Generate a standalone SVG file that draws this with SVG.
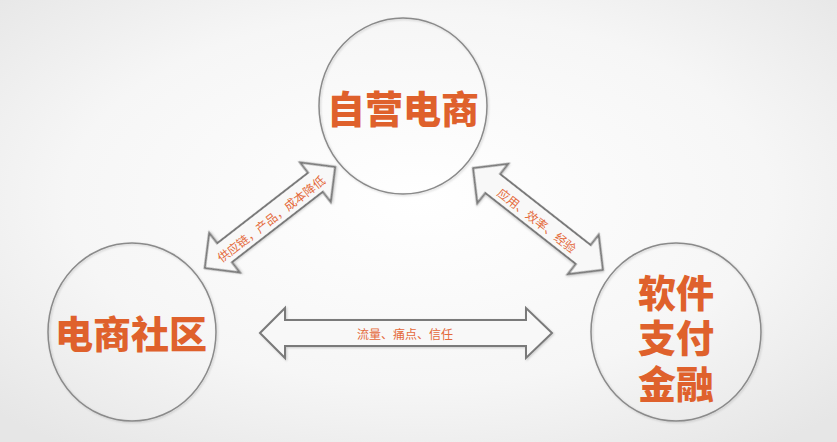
<svg xmlns="http://www.w3.org/2000/svg" width="837" height="442" viewBox="0 0 837 442">
<defs>
<radialGradient id="bg" cx="50%" cy="45%" r="70%">
<stop offset="0" stop-color="#ffffff"/>
<stop offset="0.6" stop-color="#f6f6f6"/>
<stop offset="1" stop-color="#e6e6e6"/>
</radialGradient>
<filter id="sh" x="-10%" y="-10%" width="120%" height="120%">
<feDropShadow dx="1" dy="1" stdDeviation="1.2" flood-color="#000" flood-opacity="0.18"/>
</filter>
</defs>
<style>
.node{fill:none;stroke:#8a8a8a;stroke-width:1.5;filter:url(#sh)}
.arr{fill:#f8f8f8;stroke:#7a7a7a;stroke-width:2;stroke-linejoin:miter;filter:url(#sh)}
.big{font-family:"Noto Sans CJK SC","Noto Sans",sans-serif;font-weight:900;font-size:38px;fill:#df612c;text-anchor:middle;dominant-baseline:central}
.lbl{font-family:"Noto Sans CJK SC","Noto Sans",sans-serif;font-size:12px;fill:#e4693a;text-anchor:middle;dominant-baseline:central}
</style>
<rect width="837" height="442" fill="url(#bg)"/>
<g id="node-top">
<ellipse class="node" cx="403" cy="106" rx="84" ry="88"/>
<text class="big" x="403" y="106">自营电商</text>
</g>
<g id="node-left">
<ellipse class="node" cx="132" cy="332" rx="84" ry="89"/>
<text class="big" x="131" y="331">电商社区</text>
</g>
<g id="node-right">
<ellipse class="node" cx="676" cy="332" rx="85" ry="89"/>
<text class="big" x="676" y="290">软件</text>
<text class="big" x="676" y="335">支付</text>
<text class="big" x="676" y="381">金融</text>
</g>
<g id="connectors">
<g transform="translate(270,217.5) rotate(-37.8)">
<path class="arr" d="M-82.5,0 L-57.5,-25 L-57.5,-12 L57.5,-12 L57.5,-25 L82.5,0 L57.5,25 L57.5,12 L-57.5,12 L-57.5,25 Z"/>
<text class="lbl" x="0" y="1">供应链，产品，成本降低</text>
</g>
<g transform="translate(538,219) rotate(38.1)">
<path class="arr" d="M-82.5,0 L-57.5,-25 L-57.5,-12 L57.5,-12 L57.5,-25 L82.5,0 L57.5,25 L57.5,12 L-57.5,12 L-57.5,25 Z"/>
<text class="lbl" x="0" y="1">应用、效率、经验</text>
</g>
<g>
<path class="arr" d="M260,333 L285,308 L285,320 L526,320 L526,308 L552,333 L526,358 L526,346 L285,346 L285,358 Z"/>
<text class="lbl" x="405" y="333">流量、痛点、信任</text>
</g>
</g>
</svg>
